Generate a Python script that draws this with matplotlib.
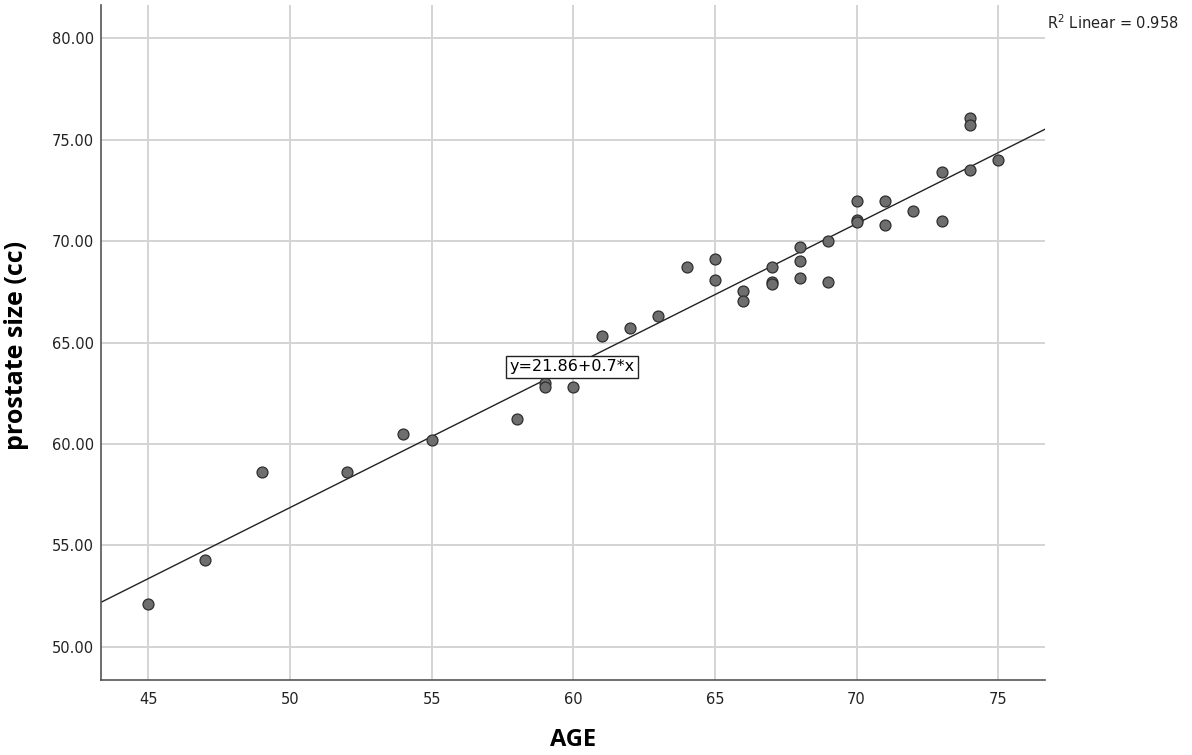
import matplotlib
matplotlib.use("Agg")
import matplotlib.pyplot as plt
import numpy as np

# age (years) and prostate volume (cc) per patient
age = [45, 47, 49, 52, 54, 55, 58, 59, 59, 60, 61, 62, 63, 64, 65, 65,
       66, 66, 67, 67, 67, 68, 68, 68, 69, 69, 70, 70, 70, 71, 71, 72,
       73, 73, 74, 74, 74, 75]
size_cc = [52.1, 54.3, 58.6, 58.6, 60.5, 60.2, 61.25, 63.0, 62.8, 62.8,
           65.3, 65.7, 66.3, 68.7, 69.1, 68.1, 67.55, 67.05, 68.7, 68.0,
           67.9, 69.7, 69.0, 68.2, 70.0, 68.0, 72.0, 71.05, 70.95, 72.0,
           70.8, 71.5, 73.4, 71.0, 76.05, 75.7, 73.5, 74.0]

# fitted line as reported
intercept = 21.86
slope = 0.7
r_squared = 0.958

xlim = (43.33, 76.65)
ylim = (48.36, 81.64)
xticks = [45, 50, 55, 60, 65, 70, 75]
yticks = [50, 55, 60, 65, 70, 75, 80]

fig = plt.figure(figsize=(11.92, 7.55), dpi=100)
ax = fig.add_axes([101 / 1192, 75 / 755, 944 / 1192, 675 / 755])

ax.set_xlim(*xlim)
ax.set_ylim(*ylim)
ax.set_xticks(xticks)
ax.set_yticks(yticks)
ax.set_xticklabels([str(t) for t in xticks])
ax.set_yticklabels(["%.2f" % t for t in yticks])
ax.tick_params(length=0, labelsize=10.5, colors="#222222")
ax.tick_params(axis="x", pad=9)
ax.tick_params(axis="y", pad=5)

ax.grid(True, color="#d4d4d4", lw=1.4)
ax.set_axisbelow(True)
for s in ["top", "right"]:
    ax.spines[s].set_visible(False)
for s in ["left", "bottom"]:
    ax.spines[s].set_color("#555555")
    ax.spines[s].set_linewidth(1.2)

xs = np.array(xlim)
ax.plot(xs, intercept + slope * xs, color="#222222", lw=1.0, zorder=2)

ax.scatter(age, size_cc, s=62, facecolor="#6e6e6e", edgecolor="#2e2e2e",
           linewidth=0.9, zorder=3)

ax.text(59.96, 63.8, "y=%.2f+%s*x" % (intercept, slope), fontsize=11.5,
        ha="center", va="center", zorder=4,
        bbox=dict(boxstyle="square,pad=0.22", fc="white", ec="#222222", lw=1.0))

fig.text(1047 / 1192, 1 - 23 / 755, "R$^2$ Linear = %.3f" % r_squared,
         fontsize=10.5, ha="left", va="center", color="#222222")

ax.set_xlabel("AGE", fontsize=17, fontweight="bold", family="Open Sans")
ax.xaxis.label.set_va("center")
ax.xaxis.set_label_coords(0.5, (680 - 740) / 675)
ax.set_ylabel("prostate size (cc)", fontsize=18, fontweight="bold",
              family="Open Sans")
ax.yaxis.label.set_va("center")
ax.yaxis.set_label_coords((17 - 101) / 944, (680 - 345) / 675)

fig.savefig("out.png", dpi=100)
